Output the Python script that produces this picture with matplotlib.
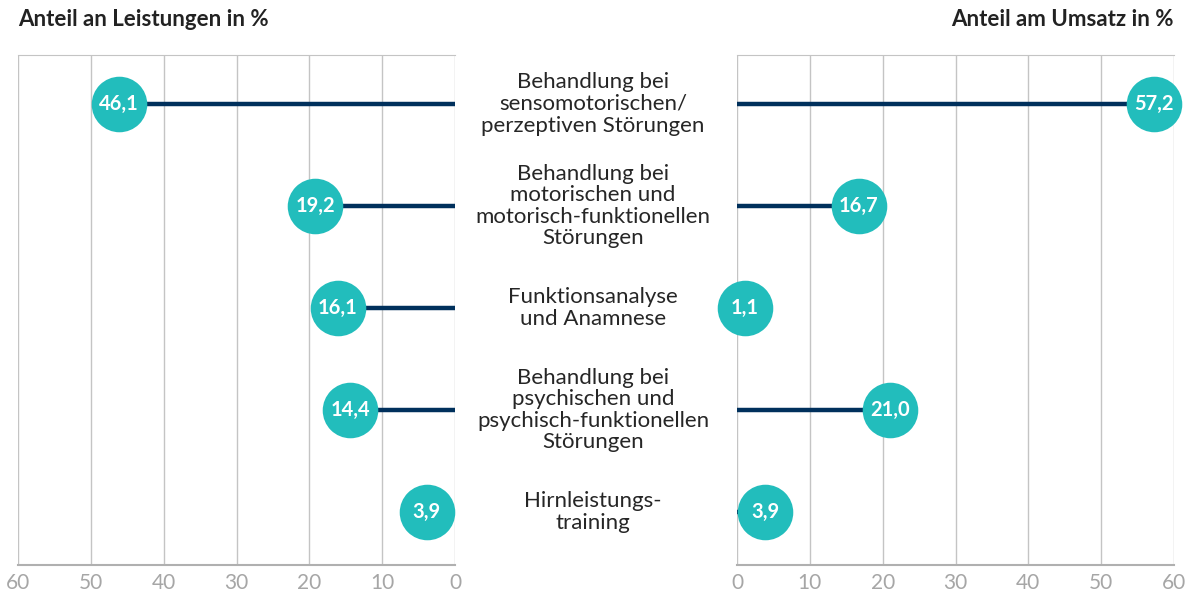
import matplotlib.pyplot as plt

plt.rcParams['font.family'] = ['Lato', 'DejaVu Sans']

categories = [
    'Behandlung bei\nsensomotorischen/\nperzeptiven Störungen',
    'Behandlung bei\nmotorischen und\nmotorisch-funktionellen\nStörungen',
    'Funktionsanalyse\nund Anamnese',
    'Behandlung bei\npsychischen und\npsychisch-funktionellen\nStörungen',
    'Hirnleistungs-\ntraining',
]
leistungen = [46.1, 19.2, 16.1, 14.4, 3.9]
umsatz = [57.2, 16.7, 1.1, 21.0, 3.9]
ticks = [0, 10, 20, 30, 40, 50, 60]

TEAL = '#22bdbc'
NAVY = '#00305c'
GRID = '#c4c4c4'
TICK = '#a6a6a6'

fig = plt.figure(figsize=(11.9, 5.93), dpi=100)
W, H = 1190, 593
top, bottom = 55, 565
ax_l = fig.add_axes([18 / W, 1 - bottom / H, 437 / W, (bottom - top) / H])
ax_r = fig.add_axes([737 / W, 1 - bottom / H, 437 / W, (bottom - top) / H])


def fmt(v):
    return f'{v:.1f}'.replace('.', ',')


def draw(ax, values, invert):
    ys = list(range(len(values)))
    for y, v in zip(ys, values):
        ax.plot([0, v], [y, y], color=NAVY, lw=3.2, solid_capstyle='butt', zorder=2)
        ax.plot(v, y, 'o', ms=40, color=TEAL, mec='none', zorder=3, clip_on=False)
        ax.text(v, y, fmt(v), ha='center', va='center', color='white',
                fontsize=14.5, fontweight='bold', zorder=4)
    ax.set_xlim(60, 0) if invert else ax.set_xlim(0, 60)
    ax.set_ylim(4.52, -0.48)
    ax.set_xticks(ticks)
    ax.set_yticks([])
    ax.grid(axis='x', color=GRID, lw=1)
    ax.set_axisbelow(True)
    for s in ('left', 'right'):
        ax.spines[s].set_visible(False)
    ax.spines['top'].set_color(GRID)
    ax.spines['bottom'].set_color('#b0b0b0')
    ax.spines['bottom'].set_linewidth(1.5)
    ax.tick_params(axis='x', length=0, pad=6, labelsize=15, labelcolor=TICK)


draw(ax_l, leistungen, True)
draw(ax_r, umsatz, False)

for y, label in enumerate(categories):
    yp = ax_l.transData.transform((0, y))[1]
    fig.text(593 / W, yp / H, label, ha='center', va='center', fontsize=16,
             color='#262626', linespacing=1.1)

fig.text(18 / W, 1 - 20 / H, 'Anteil an Leistungen in %', ha='left', va='center',
         fontsize=16, fontweight='bold', color='#222222')
fig.text(1174 / W, 1 - 20 / H, 'Anteil am Umsatz in %', ha='right', va='center',
         fontsize=16, fontweight='bold', color='#222222')

fig.savefig('out.png', dpi=100)
